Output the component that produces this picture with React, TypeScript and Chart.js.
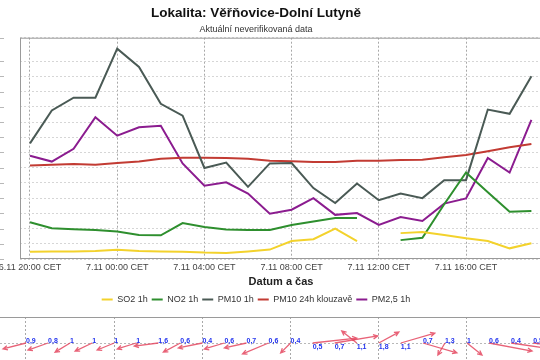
import React, { useEffect, useRef } from 'react';
import { Chart, registerables } from 'chart.js';

Chart.register(...registerables);

const FONT = '"Liberation Sans", Arial, Helvetica, sans-serif';

// hourly categories (x index = position in this list)
const categories = [
  '6.11 20:00', '6.11 21:00', '6.11 22:00', '6.11 23:00',
  '7.11 00:00', '7.11 01:00', '7.11 02:00', '7.11 03:00',
  '7.11 04:00', '7.11 05:00', '7.11 06:00', '7.11 07:00',
  '7.11 08:00', '7.11 09:00', '7.11 10:00', '7.11 11:00',
  '7.11 12:00', '7.11 13:00', '7.11 14:00', '7.11 15:00',
  '7.11 16:00', '7.11 17:00', '7.11 18:00', '7.11 19:00',
];
const tickIndexes = [0, 4, 8, 12, 16, 20];

const so2 = [2.4, 2.5, 2.5, 2.6, 3.0, 2.6, 2.5, 2.4, 2.1, 2.0, 2.5, 3.1, 5.9, 6.5, 10.0, 5.9, null, 8.5, 8.9, 7.9, 6.8, 5.9, 3.5, 5.2];
const no2 = [12.1, 10.1, 9.8, 9.5, 9.0, 7.9, 7.8, 11.8, 10.5, 9.7, 9.5, 9.5, 11.2, 12.3, 13.5, 13.5, null, 6.2, 7.0, 18.0, 28.4, 21.9, 15.5, 15.8];
const pm10 = [38.0, 48.8, 53.0, 53.0, 69.1, 63.1, 51.0, 47.1, 29.9, 31.7, 23.7, 31.4, 31.5, 23.3, 18.4, 24.8, 19.3, 21.5, 20.0, 25.9, 25.9, 49.1, 47.7, 60.0];
const pm10Avg24 = [30.7, 31.0, 31.2, 31.0, 31.5, 32.0, 32.9, 33.3, 33.3, 33.2, 32.9, 32.3, 32.1, 31.9, 31.9, 32.3, 32.3, 32.5, 32.6, 33.4, 34.2, 35.4, 36.7, 37.8];
const pm25 = [33.9, 32.0, 36.2, 46.6, 40.5, 43.3, 43.8, 31.4, 24.1, 25.2, 21.5, 14.9, 16.2, 20.0, 14.5, 15.1, 11.2, 13.8, 12.5, 18.2, 19.9, 33.2, 28.4, 45.7];

// wind: speed (m/s) and arrow vector components (x in hours, y in panel units)
const windSpeed = [0.9, 0.8, 1, 1, 1, 1, 1.6, 0.6, 0.4, 0.6, 0.7, 0.6, 0.4, 0.5, 0.7, 1.1, 1.8, 1.1, 0.7, 1.3, 1, 0.6, 0.4, 0.5];
const windU = [-1.04, -0.91, -0.68, -0.77, -0.77, -0.86, -1.09, -0.77, -1.09, -0.91, -1.0, -1.18, -0.45, 2.0, 1.95, -0.68, 0.91, 1.54, 1.54, -0.32, 0.68, 1.95, 1.81, 1.81];
const windV = [-0.23, -0.27, -0.35, -0.31, -0.27, -0.23, -0.12, -0.35, -0.19, -0.23, -0.19, -0.42, -0.38, 0.19, 0.27, 0.46, 0.42, 0.38, -0.38, -0.46, -0.46, -0.31, -0.23, -0.19];

const pts = (arr: (number | null)[]) => arr.map((v, i) => ({ x: i, y: v }));

const framePlugin = {
  id: 'frame',
  beforeDatasetsDraw(chart: any) {
    const { ctx, chartArea: a } = chart;
    ctx.save();
    ctx.strokeStyle = '#9a9a9a';
    ctx.lineWidth = 1;
    ctx.strokeRect(a.left + 0.5, a.top + 0.5, a.right - a.left - 1, a.bottom - a.top - 1);
    // small y-axis tick marks far left
    const ys = chart.scales.y;
    ctx.strokeStyle = '#b8b8b8';
    ys.ticks.forEach((t: any) => {
      const y = Math.round(ys.getPixelForValue(t.value)) + 0.5;
      ctx.beginPath();
      ctx.moveTo(a.left - 20, y);
      ctx.lineTo(a.left - 16, y);
      ctx.stroke();
    });
    ctx.restore();
  },
};

const windPlugin = {
  id: 'windArrows',
  afterDraw(chart: any) {
    const { ctx, chartArea: a } = chart;
    const xs = chart.scales.x;
    const ys = chart.scales.y;
    ctx.save();
    ctx.strokeStyle = '#9a9a9a';
    ctx.lineWidth = 1;
    ctx.beginPath();
    ctx.moveTo(a.left, a.top + 0.5);
    ctx.lineTo(a.right, a.top + 0.5);
    ctx.stroke();
    ctx.strokeStyle = 'rgba(228, 70, 95, 0.85)';
    ctx.lineWidth = 1.3;
    windSpeed.forEach((s, i) => {
      const x0 = xs.getPixelForValue(i);
      const y0 = ys.getPixelForValue(0);
      const x1 = xs.getPixelForValue(i + windU[i]);
      const y1 = ys.getPixelForValue(windV[i]);
      const ang = Math.atan2(y1 - y0, x1 - x0);
      ctx.beginPath();
      ctx.moveTo(x0, y0);
      ctx.lineTo(x1, y1);
      ctx.moveTo(x1 - 5 * Math.cos(ang - 0.45), y1 - 5 * Math.sin(ang - 0.45));
      ctx.lineTo(x1, y1);
      ctx.lineTo(x1 - 5 * Math.cos(ang + 0.45), y1 - 5 * Math.sin(ang + 0.45));
      ctx.stroke();
    });
    ctx.fillStyle = '#2233ee';
    ctx.font = 'bold 7px ' + FONT;
    ctx.textAlign = 'left';
    ctx.textBaseline = 'middle';
    windSpeed.forEach((s, i) => {
      const x0 = xs.getPixelForValue(i);
      const y0 = ys.getPixelForValue(0);
      const txt = String(s).replace('.', ',');
      ctx.fillText(txt, x0, windV[i] < 0 ? y0 - 1.5 : y0 + 4.5);
    });
    ctx.restore();
  },
};

export default function App() {
  const mainRef = useRef<HTMLCanvasElement>(null);
  const windRef = useRef<HTMLCanvasElement>(null);

  useEffect(() => {
    Chart.defaults.font.family = FONT;
    const ds = (label: string, data: (number | null)[], color: string) => ({
      label,
      data: pts(data),
      borderColor: color,
      backgroundColor: color,
      borderWidth: 2,
      pointRadius: 0,
      spanGaps: false,
      tension: 0,
    });
    const main = new Chart(mainRef.current!, {
      type: 'line',
      data: {
        datasets: [
          ds('SO2 1h', so2, '#f3d22c'),
          ds('NO2 1h', no2, '#2e8f2e'),
          ds('PM10 1h', pm10, '#4a5a55'),
          ds('PM10 24h klouzavě', pm10Avg24, '#c23b33'),
          ds('PM2,5 1h', pm25, '#8b1c8f'),
        ],
      },
      options: {
        animation: false,
        responsive: false,
        events: [],
        layout: { padding: 0 },
        plugins: {
          title: {
            display: true,
            text: 'Lokalita: Věřňovice-Dolní Lutyně',
            color: '#111',
            font: { family: FONT, size: 13.5, weight: 'bold' },
            padding: { top: 5.5, bottom: 0 },
          },
          subtitle: {
            display: true,
            text: 'Aktuální neverifikovaná data',
            color: '#333',
            font: { family: FONT, size: 9 },
            padding: { top: 2, bottom: 3.2 },
          },
          legend: {
            position: 'bottom',
            labels: {
              usePointStyle: true,
              pointStyle: 'line',
              pointStyleWidth: 11,
              boxHeight: 9,
              padding: 4,
              color: '#333',
              font: { family: FONT, size: 9 },
            },
          },
          tooltip: { enabled: false },
        },
        scales: {
          x: {
            type: 'linear',
            min: -0.4587,
            max: 23.486,
            afterBuildTicks: (s: any) => { s.ticks = tickIndexes.map((v) => ({ value: v })); },
            afterFit: (s: any) => { s.height = 32; },
            ticks: {
              autoSkip: false,
              maxRotation: 0,
              padding: 3,
              color: '#444',
              font: { family: FONT, size: 9 },
              callback: (v: any) => categories[v] + ' CET',
            },
            grid: { drawTicks: false, color: '#a8a8a8', lineWidth: 1 },
            border: { display: false, dash: [2, 2] },
            title: {
              display: true,
              text: 'Datum a čas',
              color: '#222',
              font: { family: FONT, size: 11, weight: 'bold' },
              padding: { top: 0, bottom: 2 },
            },
          },
          y: {
            type: 'linear',
            min: 0,
            max: 72.7,
            afterFit: (s: any) => { s.width = 66; },
            ticks: { display: false, stepSize: 5 },
            grid: { drawTicks: false, color: '#d6d6d6', lineWidth: 1 },
            border: { display: false, dash: [2, 2] },
          },
          y2: {
            type: 'linear',
            position: 'right',
            min: 0,
            max: 1,
            afterFit: (s: any) => { s.width = 16; },
            ticks: { display: false },
            grid: { display: false, drawTicks: false },
            border: { display: false },
          },
        },
      },
      plugins: [framePlugin],
    } as any);

    const wind = new Chart(windRef.current!, {
      type: 'line',
      data: {
        datasets: [{
          data: windSpeed.map((_, i) => ({ x: i, y: 0 })),
          pointRadius: 0,
          borderWidth: 0,
          showLine: false,
        }],
      },
      options: {
        animation: false,
        responsive: false,
        events: [],
        layout: { padding: { left: 26, top: 7, right: 0, bottom: 3 } },
        plugins: { legend: { display: false }, title: { display: false }, tooltip: { enabled: false } },
        scales: {
          x: {
            type: 'linear',
            min: -2.086,
            max: 24.127,
            afterBuildTicks: (s: any) => { s.ticks = tickIndexes.map((v) => ({ value: v })); },
            afterFit: (s: any) => { s.height = 0; },
            ticks: { display: false },
            grid: { drawTicks: false, color: '#a8a8a8' },
            border: { display: false, dash: [2, 2] },
          },
          y: {
            type: 'linear',
            min: -1,
            max: 1,
            afterBuildTicks: (s: any) => { s.ticks = [{ value: 0 }]; },
            afterFit: (s: any) => { s.width = 0; },
            ticks: { display: false },
            grid: { drawTicks: false, color: '#b8b8b8' },
            border: { display: false, dash: [2, 2] },
          },
        },
      },
      plugins: [windPlugin],
    } as any);

    return () => {
      main.destroy();
      wind.destroy();
    };
  }, []);

  return (
    <div style={{ position: 'fixed', left: 0, top: 0, width: 540, height: 360, overflow: 'hidden', background: '#fff' }}>
      <canvas ref={mainRef} width={604} height={314} style={{ position: 'absolute', left: -46, top: 0, width: 604, height: 314 }} />
      <canvas ref={windRef} width={604} height={62} style={{ position: 'absolute', left: -46, top: 310, width: 604, height: 62 }} />
    </div>
  );
}
